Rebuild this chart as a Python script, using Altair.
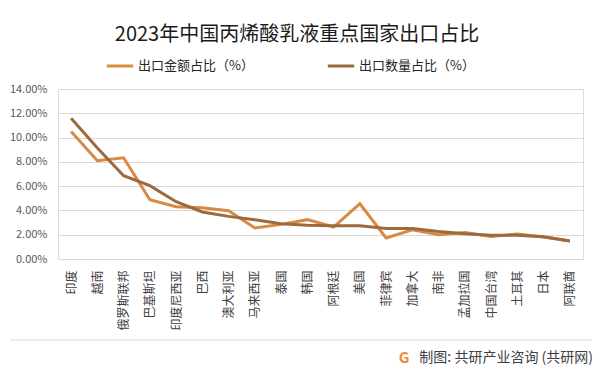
import altair as alt
import pandas as pd

categories = ["印度", "越南", "俄罗斯联邦", "巴基斯坦", "印度尼西亚", "巴西", "澳大利亚", "马来西亚",
              "泰国", "韩国", "阿根廷", "美国", "菲律宾", "加拿大", "南非", "孟加拉国", "中国台湾",
              "土耳其", "日本", "阿联酋"]
amount_share = [10.51, 8.10, 8.34, 4.88, 4.30, 4.22, 3.98, 2.55, 2.85, 3.24, 2.63, 4.55, 1.73,
                2.41, 2.00, 2.19, 1.86, 2.06, 1.81, 1.48]
qty_share = [11.60, 9.14, 6.86, 6.04, 4.72, 3.87, 3.51, 3.24, 2.91, 2.77, 2.74, 2.74, 2.52,
             2.52, 2.27, 2.08, 1.95, 1.95, 1.84, 1.48]
series_names = ["出口金额占比（%）", "出口数量占比（%）"]
series_colors = ["#D98A42", "#9C6A3D"]
y_ticks = [0, 0.02, 0.04, 0.06, 0.08, 0.10, 0.12, 0.14]

title_text = "2023年中国丙烯酸乳液重点国家出口占比"
source_text = "制图: 共研产业咨询 (共研网)"

rows = []
for c, a, q in zip(categories, amount_share, qty_share):
    rows.append({"国家": c, "系列": series_names[0], "值": a / 100})
    rows.append({"国家": c, "系列": series_names[1], "值": q / 100})
df = pd.DataFrame(rows)

FONT = "Noto Sans CJK SC"

lines = alt.Chart(df).mark_line(strokeWidth=3).encode(
    x=alt.X("国家:N", sort=categories,
            axis=alt.Axis(title=None, labelAngle=-90, ticks=False, domain=False,
                          labelPadding=11, labelFontSize=12, labelColor="#404040",
                          labelFont=FONT, grid=False)),
    y=alt.Y("值:Q", scale=alt.Scale(domain=[0, 0.14], nice=False),
            axis=alt.Axis(title=None, format=".2%", values=y_ticks, ticks=False, domain=False,
                          labelFontSize=11, labelColor="#595959", labelPadding=11,
                          gridColor="#D9D9D9", gridWidth=1)),
    color=alt.Color("系列:N", scale=alt.Scale(domain=series_names, range=series_colors),
                    legend=alt.Legend(title=None, orient="none", direction="horizontal",
                                      legendX=47, legendY=-38, symbolType="stroke",
                                      symbolSize=700, symbolStrokeWidth=3,
                                      labelFontSize=13, labelFont=FONT, labelColor="#262626",
                                      labelOffset=3, columnPadding=67, labelLimit=200)),
    order=alt.Order("系列:N"),
)

title = alt.Chart(pd.DataFrame({"t": [title_text]})).mark_text(
    fontSize=20, font=FONT, color="#1a1a1a", align="center", baseline="middle"
).encode(text="t:N", x=alt.value(239), y=alt.value(-54))

sep = alt.Chart(pd.DataFrame({"a": [0]})).mark_rule(color="#D9D9D9", strokeWidth=1).encode(
    x=alt.value(-48), x2=alt.value(534), y=alt.value(251))

source = alt.Chart(pd.DataFrame({"t": [source_text]})).mark_text(
    fontSize=14, font=FONT, color="#404040", align="right", baseline="middle"
).encode(text="t:N", x=alt.value(535), y=alt.value(269))

logo = alt.Chart(pd.DataFrame({"t": ["G"]})).mark_text(
    fontSize=15, font=FONT, fontWeight="bold", color="#F08A3C", align="center", baseline="middle"
).encode(text="t:N", x=alt.value(346), y=alt.value(269))

chart = alt.layer(lines, title, sep, source, logo).properties(
    width=525, height=170,
    autosize=alt.AutoSizeParams(type="none"),
    padding={"left": 50, "top": 81, "right": 11, "bottom": 109},
).configure_view(stroke=None).configure(font=FONT)

chart.save("out.html", embed_options={"renderer": "svg", "actions": False})
